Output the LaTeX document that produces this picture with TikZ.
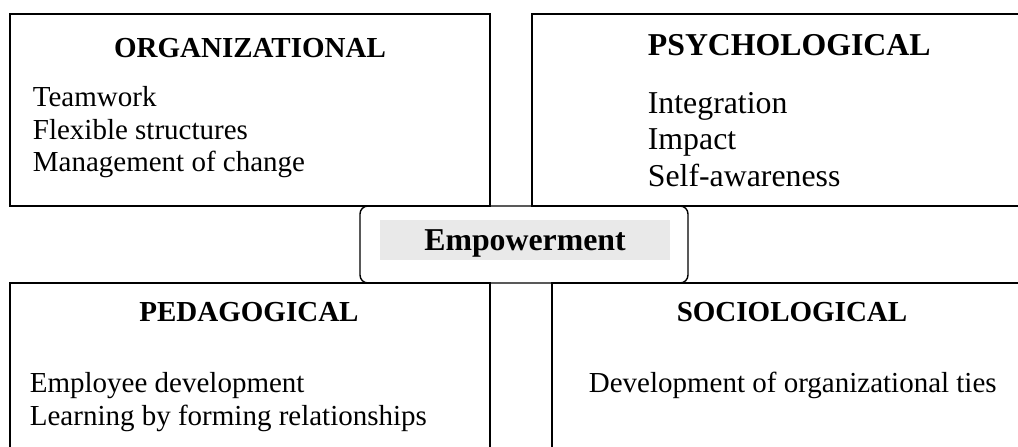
\documentclass[tikz,border=0pt]{standalone}
\usepackage{fontspec}
\setmainfont{Liberation Serif}
\usepackage{tikz}

\tikzset{
  head/.style={font=\fontsize{14.5}{17}\selectfont\bfseries, anchor=base, inner sep=0pt},
  item/.style={font=\fontsize{14.5}{17}\selectfont, anchor=base west, inner sep=0pt},
  bighead/.style={font=\fontsize{15.9}{19}\selectfont\bfseries, anchor=base west, inner sep=0pt},
  bigitem/.style={font=\fontsize{15.9}{19}\selectfont, anchor=base west, inner sep=0pt},
  keybox/.style={fill=gray!17, font=\fontsize{15.9}{19}\selectfont\bfseries, text depth=0pt,
    minimum width=145pt, minimum height=20pt, inner sep=0pt}
}

\begin{document}
\begin{tikzpicture}[x=0.5pt, y=-0.5pt, line width=0.9pt]
      \useasboundingbox (0,0) rectangle (1018,446);
      \clip (0,0) rectangle (1018,446);
      \draw (10,14) rectangle (490,206);
      \draw (532,14) rectangle (1040,206);
      \draw (10,283) rectangle (490,470);
      \draw (552,283) rectangle (1040,470);
      \draw[line width=0.7pt, rounded corners=4pt] (360,206) rectangle (688,283);
      \node[keybox] (emp) at (525,240) {Empowerment};
      %organizational
      \node[head] (org) at (250,57) {ORGANIZATIONAL};
      \node[item] (team) at (32,106) {Teamwork};
      \node[item] (flex) at (32,139) {Flexible structures};
      \node[item] (change) at (32,171) {Management of change};
      %psychological
      \node[bighead] (psy) at (647,55) {PSYCHOLOGICAL};
      \node[bigitem] (integ) at (647,113) {Integration};
      \node[bigitem] (impact) at (647,149) {Impact};
      \node[bigitem] (aware) at (647,186) {Self-awareness};
      %pedagogical
      \node[head] (ped) at (249,321) {PEDAGOGICAL};
      \node[item] (employee) at (29,392) {Employee development};
      \node[item] (learning) at (29,425) {Learning by forming relationships};
      %sociological
      \node[head] (soc) at (792,321) {SOCIOLOGICAL};
      \node[item] (ties) at (588,392) {Development of organizational ties};
\end{tikzpicture}
\end{document}
